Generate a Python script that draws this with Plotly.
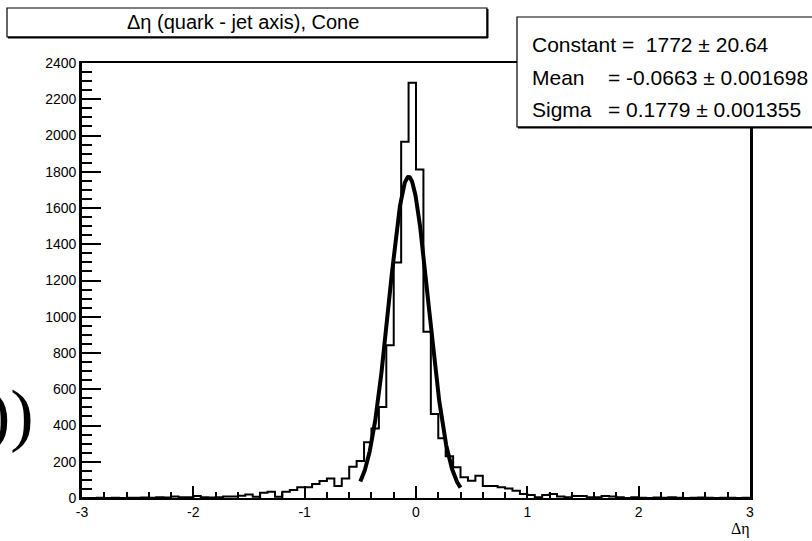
import numpy as np
import plotly.graph_objects as go

# ---------------- data ----------------
x_min, x_max, n_bins = -3.0, 3.0, 90
counts_left_tail = [0, 0, 1, 0, 2, 0, 1, 2, 3, 2, 4, 3, 8, 4, 4, 11, 4, 3, 4, 8, 8]
counts_left_mid = [12, 20, 7, 29, 35, 7, 35, 44, 59]
counts_left_core = [59, 77, 94, 108, 66, 108, 173, 204, 308, 384, 502, 843, 1300, 1966, 2291]
counts_right_core = [1812, 917, 463, 329, 231, 169, 114, 95, 123, 66, 66, 59, 53, 40, 22,
                     17, 4, 17, 22, 8, 4, 11, 11, 4, 4, 11, 8, 4, 0, 4]
counts_right_tail = [2, 0, 3, 2, 4, 1, 0, 2, 3, 1, 0, 2, 1, 0, 1]
counts = counts_left_tail + counts_left_mid + counts_left_core + counts_right_core + counts_right_tail

fit_const, fit_mean, fit_sigma = 1772.0, -0.0663, 0.1779
fit_range = [-0.5, 0.4]

title_text = "Δη (quark - jet axis), Cone"
stats_rows = [("Constant =  1772 ± 20.64", None),
              ("Mean", "= -0.0663 ± 0.001698"),
              ("Sigma", "= 0.1779 ± 0.001355")]
x_ticks = [-3, -2, -1, 0, 1, 2, 3]
y_ticks = list(range(0, 2401, 200))
x_title = "Δη"

# ---------------- build ----------------
edges = np.linspace(x_min, x_max, n_bins + 1)
hx = list(edges)
hy = counts + [counts[-1]]

xf = np.linspace(fit_range[0], fit_range[1], 300)
yf = fit_const * np.exp(-0.5 * ((xf - fit_mean) / fit_sigma) ** 2)

W, H = 812, 541
L, R, T, B = 82, 62, 63, 43
pw, ph = W - L - R, H - T - B


def px(x):
    return (x - L) / pw


def py(y):
    return (H - B - y) / ph


fig = go.Figure()
fig.add_trace(go.Scatter(x=hx, y=hy, mode="lines", line=dict(shape="hv", color="black", width=2),
                         hoverinfo="skip", showlegend=False))
fig.add_trace(go.Scatter(x=xf, y=yf, mode="lines", line=dict(color="black", width=4),
                         hoverinfo="skip", showlegend=False))

font = "Liberation Sans, Arial, Helvetica, sans-serif"
serif = "Liberation Serif, Times New Roman, serif"

tickfont = dict(size=14, family="Liberation Sans", color="black")

fig.update_layout(
    width=W, height=H, margin=dict(l=L, r=R, t=T, b=B, autoexpand=False),
    paper_bgcolor="white", plot_bgcolor="white",
    font=dict(family=font, color="black", size=14),
    showlegend=False,
)
fig.update_xaxes(range=[x_min, x_max], tickmode="array", tickvals=x_ticks,
                 ticktext=[str(v) for v in x_ticks],
                 ticks="inside", ticklen=12, tickwidth=1.5, tickcolor="black",
                 minor=dict(dtick=0.2, tick0=0, ticks="inside", ticklen=6, tickwidth=1.5, tickcolor="black"),
                 showline=True, linecolor="black", linewidth=2.2, mirror=True, automargin=False,
                 showgrid=False, zeroline=False, tickfont=tickfont)
fig.update_yaxes(range=[0, 2400], tickmode="array", tickvals=y_ticks,
                 ticktext=[str(v) for v in y_ticks],
                 ticks="inside", ticklen=19, tickwidth=1.8, tickcolor="black",
                 minor=dict(dtick=50, tick0=0, ticks="inside", ticklen=10, tickwidth=1.8, tickcolor="black"),
                 showline=True, linecolor="black", linewidth=2.8, mirror=True, automargin=False,
                 showgrid=False, zeroline=False, tickfont=tickfont)

shapes = []
# title box with shadow
shapes.append(dict(type="rect", xref="paper", yref="paper", x0=px(7), x1=px(487), y0=py(37), y1=py(8),
                   line=dict(color="black", width=1.2), fillcolor="white", layer="above"))
shapes.append(dict(type="line", xref="paper", yref="paper", x0=px(8), x1=px(488), y0=py(37.5), y1=py(37.5),
                   line=dict(color="black", width=2), layer="above"))
shapes.append(dict(type="line", xref="paper", yref="paper", x0=px(487.5), x1=px(487.5), y0=py(9), y1=py(38),
                   line=dict(color="black", width=2), layer="above"))
# stats box with shadow
shapes.append(dict(type="rect", xref="paper", yref="paper", x0=px(517), x1=px(830), y0=py(127), y1=py(17),
                   line=dict(color="black", width=1.2), fillcolor="white", layer="above"))
shapes.append(dict(type="line", xref="paper", yref="paper", x0=px(518), x1=px(830), y0=py(127.5), y1=py(127.5),
                   line=dict(color="black", width=2), layer="above"))
fig.update_layout(shapes=shapes)

ann = []
ann.append(dict(xref="paper", yref="paper", x=px(243), y=py(22), text=title_text, showarrow=False,
                xanchor="center", yanchor="middle", font=dict(size=20, family=font, color="black")))
row_y = [45, 78, 110]
for (lab, val), yy in zip(stats_rows, row_y):
    ann.append(dict(xref="paper", yref="paper", x=px(530), y=py(yy), text=lab, showarrow=False,
                    xanchor="left", yanchor="middle", font=dict(size=21, family=font, color="black")))
    if val is not None:
        ann.append(dict(xref="paper", yref="paper", x=px(606), y=py(yy), text=val, showarrow=False,
                        xanchor="left", yanchor="middle", font=dict(size=21, family=font, color="black")))
ann.append(dict(xref="paper", yref="paper", x=px(752), y=py(529), text=x_title, showarrow=False,
                xanchor="right", yanchor="middle", font=dict(size=16, family=serif, color="black")))
ann.append(dict(xref="paper", yref="paper", x=px(36), y=py(414), text="))", showarrow=False,
                xanchor="right", yanchor="middle", font=dict(size=70, family=serif, color="black")))
fig.update_layout(annotations=ann)

fig.write_html("out.html")
